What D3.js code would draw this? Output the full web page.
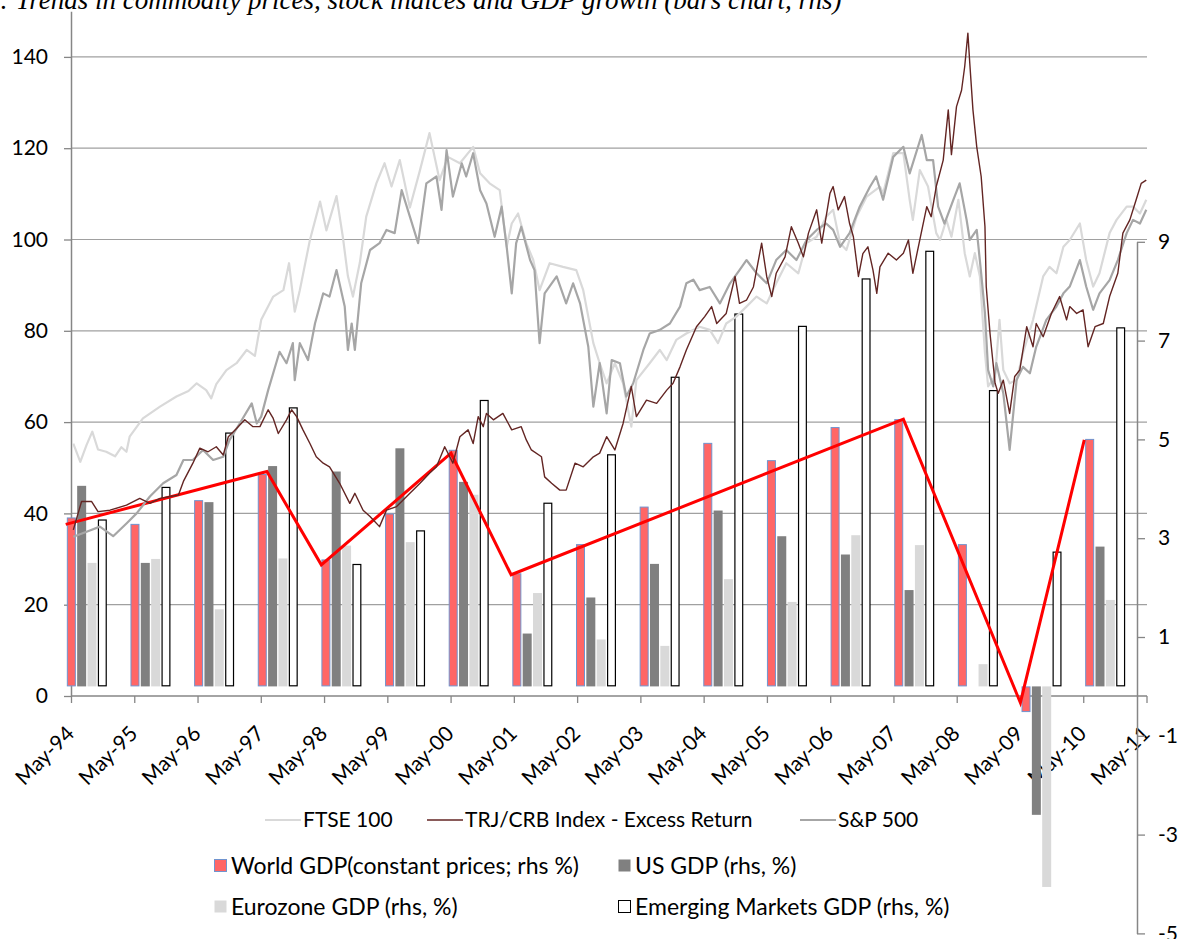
<!DOCTYPE html>
<html><head><meta charset="utf-8">
<script src="https://cdn.jsdelivr.net/npm/d3@7"></script>
<style>body{margin:0;background:#fff}svg{display:block}</style>
</head><body><svg id="c" width="1183" height="939"></svg>
<script>
// ---------------- DATA ----------------
const title = ": Trends in commodity prices, stock indices and GDP growth (bars chart, rhs)";
const tickLabels = ["May-94","May-95","May-96","May-97","May-98","May-99","May-00","May-01","May-02","May-03","May-04","May-05","May-06","May-07","May-08","May-09","May-10","May-11"];
const tickYears = [1994,1995,1996,1997,1998,1999,2000,2001,2002,2003,2004,2005,2006,2007,2008,2009,2010,2011];
const leftTicks = [0,20,40,60,80,100,120,140];
const rightTicks = [-5,-3,-1,1,3,5,7,9];

// bar categories (annual GDP growth, %, right axis)
const barYears = ["1994","1995","1996","1997","1998","1999","2000","2001","2002","2003","2004","2005","2006","2007","2008","2009","2010"];
const worldGDP = [3.42,3.29,3.77,4.30,2.57,3.50,4.79,2.29,2.88,3.64,4.93,4.58,5.25,5.41,2.88,-0.52,5.01];
const usGDP    = [4.06,2.50,3.73,4.46,4.35,4.82,4.14,1.07,1.80,2.48,3.56,3.04,2.67,1.95,0.00,-2.60,2.83];
const euroGDP  = [2.50,2.58,1.56,2.59,2.85,2.92,3.88,1.89,0.95,0.82,2.17,1.71,3.06,2.86,0.45,-4.06,1.75];
const emGDP    = [3.38,4.04,5.14,5.65,2.48,3.16,5.80,3.72,4.70,6.27,7.55,7.30,8.26,8.82,6.00,2.73,7.27];

// red World GDP line (decimal year, %, right axis)
const worldLine = [[1994.25,3.28],[1997.43,4.35],[1998.29,2.46],[2000.34,4.72],[2001.29,2.26],[2007.49,5.41],[2009.34,-0.33],[2010.35,4.99]];

// indices (decimal year, index level, left axis)
const ftse = [[1994.37,55.3],[1994.48,51.3],[1994.58,55],[1994.67,57.9],[1994.76,54],[1994.89,53.5],[1995.03,52.5],[1995.13,54.5],[1995.21,53.5],[1995.26,56.8],[1995.47,60.8],[1995.74,63.4],[1996.00,65.6],[1996.19,66.8],[1996.32,68.5],[1996.47,67],[1996.55,65.2],[1996.63,68.3],[1996.79,71.4],[1996.95,72.9],[1997.11,75.8],[1997.24,74.5],[1997.34,82.4],[1997.53,87.5],[1997.69,88.9],[1997.78,94.8],[1997.87,84.2],[1997.95,88.9],[1998.11,99.9],[1998.27,108.3],[1998.37,102],[1998.53,109.5],[1998.63,100.6],[1998.71,92],[1998.79,87.5],[1998.90,95],[1998.95,100],[1999.00,105],[1999.16,112.3],[1999.29,116.7],[1999.40,111.6],[1999.53,117.4],[1999.69,107],[1999.85,115.2],[2000.00,123.3],[2000.16,113],[2000.29,118.1],[2000.48,116.7],[2000.69,120.3],[2000.80,114.5],[2000.95,112.3],[2001.11,110.8],[2001.22,98.4],[2001.30,103.5],[2001.40,105.7],[2001.53,99.2],[2001.64,95.5],[2001.74,88.9],[2001.90,94.8],[2002.11,94],[2002.32,93.3],[2002.43,88.9],[2002.59,77.3],[2002.69,72.9],[2002.80,68.5],[2002.93,72.9],[2003.06,68.5],[2003.19,59],[2003.27,69.2],[2003.48,72.9],[2003.64,75.8],[2003.75,73.6],[2003.90,78],[2004.06,79.4],[2004.27,80.9],[2004.43,80.2],[2004.56,77.3],[2004.69,81.6],[2004.85,83.1],[2005.01,85.3],[2005.17,87.5],[2005.33,86],[2005.48,90.4],[2005.64,94.8],[2005.83,92.6],[2005.96,99.2],[2006.12,100.6],[2006.27,105],[2006.38,106.5],[2006.49,99.2],[2006.59,97.7],[2006.75,105],[2006.91,109.4],[2007.12,111.6],[2007.17,110.1],[2007.33,118.9],[2007.49,118.9],[2007.59,108.7],[2007.64,104.3],[2007.75,115.2],[2007.88,111.6],[2008.01,101.4],[2008.07,99.9],[2008.17,104.3],[2008.25,100.6],[2008.36,108.7],[2008.46,97],[2008.54,91.9],[2008.62,97],[2008.70,91.9],[2008.78,75.1],[2008.83,67.8],[2008.94,70],[2009.01,82.4],[2009.07,71.4],[2009.17,68.5],[2009.28,69.2],[2009.38,75.1],[2009.54,82.4],[2009.70,91.9],[2009.80,94],[2009.91,92.6],[2010.02,98.4],[2010.12,99.9],[2010.28,103.5],[2010.38,95.5],[2010.49,89.7],[2010.59,92.6],[2010.75,101.4],[2010.86,104.3],[2011.02,107.2],[2011.12,107.2],[2011.23,105.7],[2011.33,108.7]];

const sp500 = [[1994.37,34.9],[1994.58,36],[1994.79,37.1],[1995.00,35],[1995.21,37.8],[1995.37,40],[1995.58,43.7],[1995.79,46.6],[1996.00,48.4],[1996.11,51.7],[1996.26,51.7],[1996.42,53.9],[1996.58,51.7],[1996.74,52.4],[1996.84,56.1],[1997.00,59.7],[1997.19,64.1],[1997.27,59.7],[1997.34,61.2],[1997.45,67],[1997.63,75.4],[1997.74,72.9],[1997.84,77.3],[1997.87,69.2],[1997.95,77.3],[1998.08,73.6],[1998.19,81.6],[1998.32,88.2],[1998.42,87.5],[1998.53,93.3],[1998.66,85.3],[1998.71,75.8],[1998.77,81.6],[1998.82,75.8],[1998.92,90.4],[1999.06,97.7],[1999.21,99.2],[1999.32,102.1],[1999.45,101.4],[1999.56,110.8],[1999.69,105],[1999.82,99.2],[1999.95,112.3],[2000.11,113.8],[2000.19,106.5],[2000.27,119.6],[2000.37,109.4],[2000.51,116.7],[2000.58,113.8],[2000.69,118.9],[2000.80,110.8],[2000.90,107.9],[2001.03,100.6],[2001.14,107.2],[2001.22,98.4],[2001.30,88.2],[2001.37,99.2],[2001.45,102.8],[2001.59,95.5],[2001.66,93.3],[2001.74,77.3],[2001.82,88.2],[2002.01,91.9],[2002.16,86],[2002.27,90.4],[2002.38,86],[2002.51,76.5],[2002.59,63.4],[2002.69,72.9],[2002.80,61.9],[2002.88,73.6],[2003.01,72.9],[2003.11,65.6],[2003.22,68.5],[2003.38,75.8],[2003.48,79.4],[2003.64,80.2],[2003.80,81.6],[2003.96,85.3],[2004.06,90.4],[2004.17,91.2],[2004.27,88.9],[2004.43,89.6],[2004.59,86],[2004.75,90.4],[2004.90,93.3],[2005.01,95.5],[2005.17,92.6],[2005.33,90.4],[2005.48,95.5],[2005.64,97.7],[2005.80,95.5],[2005.96,99.9],[2006.12,102.1],[2006.27,103.5],[2006.38,102.1],[2006.49,98.4],[2006.64,101.4],[2006.80,107.2],[2006.96,111.5],[2007.06,113.8],[2007.17,108.7],[2007.33,118.1],[2007.49,120.3],[2007.59,114.5],[2007.78,122.9],[2007.86,117.4],[2007.96,117.4],[2008.04,107.2],[2008.14,103.5],[2008.28,108.7],[2008.38,112.3],[2008.49,104.3],[2008.54,99.9],[2008.65,102.1],[2008.72,92.6],[2008.78,83.8],[2008.83,71.4],[2008.91,67.8],[2008.96,72.9],[2009.07,66.3],[2009.17,53.9],[2009.28,69.2],[2009.38,72.1],[2009.49,70.7],[2009.59,76.5],[2009.75,82.4],[2009.91,85.3],[2010.02,88.2],[2010.12,89.7],[2010.28,95.5],[2010.38,89.7],[2010.49,84.6],[2010.59,88.2],[2010.75,91.1],[2010.88,95.5],[2011.02,101.4],[2011.12,104.3],[2011.23,103.5],[2011.33,106.5]];

const crb = [[1994.37,36.4],[1994.50,42.6],[1994.66,42.6],[1994.76,40.4],[1994.95,40.7],[1995.21,41.8],[1995.42,43.3],[1995.58,42.2],[1995.74,43.3],[1995.90,43.7],[1996.03,44],[1996.11,47],[1996.26,51],[1996.37,54.3],[1996.50,53.5],[1996.63,54.6],[1996.74,52.8],[1996.82,56.8],[1996.95,58.6],[1997.08,60.5],[1997.21,59],[1997.32,59],[1997.45,62.7],[1997.53,60.8],[1997.61,57.5],[1997.74,60.5],[1997.82,62.7],[1997.90,61.2],[1998.00,58.3],[1998.11,55.3],[1998.21,52.4],[1998.32,51],[1998.42,50.2],[1998.58,46.6],[1998.74,42.2],[1998.82,44.4],[1998.95,40.7],[1999.06,39.3],[1999.21,37.1],[1999.32,40.7],[1999.48,41.5],[1999.69,44.4],[1999.85,46.6],[2000.00,48.8],[2000.11,50.2],[2000.24,54.6],[2000.37,51],[2000.48,56.8],[2000.61,58.3],[2000.69,55.3],[2000.77,61.2],[2000.85,59],[2000.90,61.9],[2001.01,60.5],[2001.16,61.9],[2001.30,58.3],[2001.45,59],[2001.53,56.1],[2001.61,53.9],[2001.77,52.4],[2001.82,48],[2001.93,46.6],[2002.06,45.1],[2002.16,45.1],[2002.30,51],[2002.43,50.2],[2002.59,52.4],[2002.69,53.2],[2002.80,56.8],[2002.93,53.9],[2003.06,59.7],[2003.19,67.8],[2003.27,61.2],[2003.43,64.8],[2003.59,64.1],[2003.75,67],[2003.85,68.5],[2003.96,72.1],[2004.06,75.8],[2004.22,80.9],[2004.35,83.1],[2004.46,85.3],[2004.54,81.6],[2004.69,83.8],[2004.83,91.9],[2004.90,86],[2005.01,86.7],[2005.12,89.6],[2005.25,99.2],[2005.33,91.9],[2005.41,87.5],[2005.48,92.6],[2005.62,96.2],[2005.72,102.8],[2005.83,99.2],[2005.91,96.2],[2005.99,101.4],[2006.12,106.5],[2006.20,99.2],[2006.33,110.1],[2006.38,111.6],[2006.46,106.5],[2006.56,109.4],[2006.64,103.5],[2006.70,100.6],[2006.78,91.9],[2006.85,96.9],[2006.93,98.4],[2007.01,93.3],[2007.07,88.2],[2007.12,94],[2007.25,97],[2007.38,95.5],[2007.49,97],[2007.57,99.9],[2007.64,92.6],[2007.75,99.9],[2007.86,107.2],[2007.93,105],[2008.01,111.6],[2008.12,117.4],[2008.20,128.4],[2008.25,118.6],[2008.33,129.1],[2008.41,132.7],[2008.46,137.9],[2008.51,145.2],[2008.54,138.6],[2008.59,128.4],[2008.65,120.3],[2008.72,113.8],[2008.78,102.8],[2008.80,89.7],[2008.86,79.4],[2008.94,68.5],[2008.99,66.3],[2009.07,69.2],[2009.17,61.9],[2009.25,70],[2009.33,71.4],[2009.44,80.9],[2009.54,76.5],[2009.59,81.6],[2009.70,78.7],[2009.83,83.8],[2009.96,87.5],[2010.07,82.4],[2010.12,85.3],[2010.23,83.8],[2010.33,84.6],[2010.41,76.5],[2010.52,80.9],[2010.65,81.6],[2010.75,87.5],[2010.88,92.6],[2010.96,101.4],[2011.07,104.3],[2011.17,108.7],[2011.25,112.3],[2011.33,113]];

const lineNames = ["FTSE 100","TRJ/CRB Index - Excess Return","S&P 500"];
const barNames = ["World GDP(constant prices; rhs %)","US GDP (rhs, %)","Eurozone GDP (rhs, %)","Emerging Markets GDP (rhs, %)"];

// ---------------- CHART ----------------
const FONT = "Lato, 'Open Sans', sans-serif";
const FS = 21, FS2 = 23;
const C = {ftse:"#D9D9D9", crb:"#632523", sp:"#A6A6A6", world:"#FF6666", worldEdge:"#7094CF", us:"#808080", euro:"#D9D9D9", em:"#FFFFFF", emEdge:"#000000", red:"#FF0000", grid:"#A0A0A0", axis:"#868686"};

const svg = d3.select("#c");
const X0 = 71, X1 = 1146.5, XR = 1137, XG = 1147;
const may = y => y + 4/12;
const x = d3.scaleLinear().domain([may(1994), may(2011)]).range([X0, X1]);
const yL = d3.scaleLinear().domain([0,150]).range([696, 11.25]);
const yR = d3.scaleLinear().domain([-5,9]).range([933.4, 241.8]);
const xb = d3.scaleBand().domain(barYears).range([55, XR]);
const keys = ["world","us","euro","em"];
const xs = d3.scaleBand().domain(keys).range([0,40]).paddingInner(0.13);
const series = {world: worldGDP, us: usGDP, euro: euroGDP, em: emGDP};

// title
svg.append("text").attr("x",0).attr("y",9)
  .style("font-family","'Liberation Serif','DejaVu Serif',serif").style("font-style","italic").style("font-size","27px")
  .text(title);

// gridlines
svg.append("g").selectAll("line").data(leftTicks.filter(v=>v>0)).join("line")
  .attr("x1",X0).attr("x2",XG).attr("y1",d=>yL(d)).attr("y2",d=>yL(d))
  .attr("stroke",C.grid).attr("stroke-width",1.2);

// x axis (at left 0)
const gx = svg.append("g").attr("transform",`translate(0,${yL(0)})`)
  .call(d3.axisBottom(x).tickValues(tickYears.map(may)).tickSize(7).tickSizeOuter(0).tickFormat((d,i)=>tickLabels[i]));
gx.select(".domain").remove();
gx.append("line").attr("x1",X0).attr("x2",XG).attr("stroke",C.axis).attr("stroke-width",1.5);
gx.selectAll(".tick line").attr("stroke",C.axis).attr("stroke-width",1.3);
gx.selectAll(".tick text").attr("y",0).attr("dy",0).attr("text-anchor","end")
  .attr("transform","translate(4,39) rotate(-45)")
  .style("font-family",FONT).style("font-size",FS+"px").attr("fill","#000");

// left axis
const gl = svg.append("g").attr("transform",`translate(${X0},0)`)
  .call(d3.axisLeft(yL).tickValues(leftTicks).tickSize(7).tickSizeOuter(0).tickPadding(16));
gl.select(".domain").attr("stroke",C.axis).attr("stroke-width",1.5);
gl.selectAll(".tick line").attr("stroke",C.axis).attr("stroke-width",1.3);
gl.selectAll(".tick text").style("font-family",FONT).style("font-size",FS+"px").attr("fill","#000");

// right axis
const gr = svg.append("g").attr("transform",`translate(${XR},0)`)
  .call(d3.axisRight(yR).tickValues(rightTicks).tickSize(8).tickSizeOuter(0).tickPadding(13).tickFormat(d=>String(d)));
gr.select(".domain").attr("stroke",C.axis).attr("stroke-width",1.5);
gr.selectAll(".tick line").attr("stroke",C.axis).attr("stroke-width",1.3);
gr.selectAll(".tick text").style("font-family",FONT).style("font-size",FS+"px").attr("fill","#000");

// bars
const off = (xb.bandwidth() - 40) / 2;
const grp = svg.append("g").selectAll("g").data(barYears).join("g")
  .attr("transform",d=>`translate(${xb(d)+off},0)`);
const style = {
  world:{fill:C.world, stroke:C.worldEdge, sw:1},
  us:{fill:C.us, stroke:"none", sw:0},
  euro:{fill:C.euro, stroke:"none", sw:0},
  em:{fill:C.em, stroke:C.emEdge, sw:1.2}
};
grp.each(function(yr,i){
  const g = d3.select(this);
  keys.forEach(k=>{
    const v = series[k][i];
    if (v === 0) return;
    const s = style[k];
    const top = yR(Math.max(0,v)), bot = yR(Math.min(0,v));
    g.append("rect")
      .attr("x", xs(k) + s.sw/2).attr("width", xs.bandwidth() - s.sw)
      .attr("y", top + s.sw/2).attr("height", Math.max(0, bot - top - s.sw))
      .attr("fill", s.fill).attr("stroke", s.stroke).attr("stroke-width", s.sw);
  });
});

// red World GDP line
svg.append("path").datum(worldLine)
  .attr("d", d3.line().x(d=>x(d[0])).y(d=>yR(d[1])))
  .attr("fill","none").attr("stroke",C.red).attr("stroke-width",3).attr("stroke-linejoin","miter");

// index lines
const lineL = d3.line().x(d=>x(d[0])).y(d=>yL(d[1]));
[[ftse,C.ftse,2.2],[sp500,C.sp,2.2],[crb,C.crb,1.4]].forEach(([data,col,w])=>{
  svg.append("path").datum(data).attr("d",lineL)
    .attr("fill","none").attr("stroke",col).attr("stroke-width",w).attr("stroke-linejoin","round");
});

// legend
const leg = svg.append("g").style("font-family",FONT);
const lineLeg = [{x:265, col:C.ftse, w:2}, {x:427, col:C.crb, w:1.5}, {x:800, col:C.sp, w:2}];
lineLeg.forEach((o,i)=>{
  leg.append("line").attr("x1",o.x).attr("x2",o.x+36).attr("y1",820).attr("y2",820).attr("stroke",o.col).attr("stroke-width",o.w);
  leg.append("text").attr("x",o.x+38).attr("y",820).attr("dy","0.35em").style("font-size",FS+"px").text(lineNames[i]);
});
const boxLeg = [
  {x:214, y:866, fill:C.world, stroke:C.worldEdge},
  {x:618, y:866, fill:C.us, stroke:"none"},
  {x:214, y:907, fill:C.euro, stroke:"none"},
  {x:618, y:907, fill:"#fff", stroke:"#000"}
];
boxLeg.forEach((o,i)=>{
  leg.append("rect").attr("x",o.x+0.5).attr("y",o.y-6.5).attr("width",12).attr("height",12)
    .attr("fill",o.fill).attr("stroke",o.stroke).attr("stroke-width",1);
  leg.append("text").attr("x",o.x+17).attr("y",o.y).attr("dy","0.35em").style("font-size",FS2+"px").text(barNames[i]);
});
</script></body></html>
